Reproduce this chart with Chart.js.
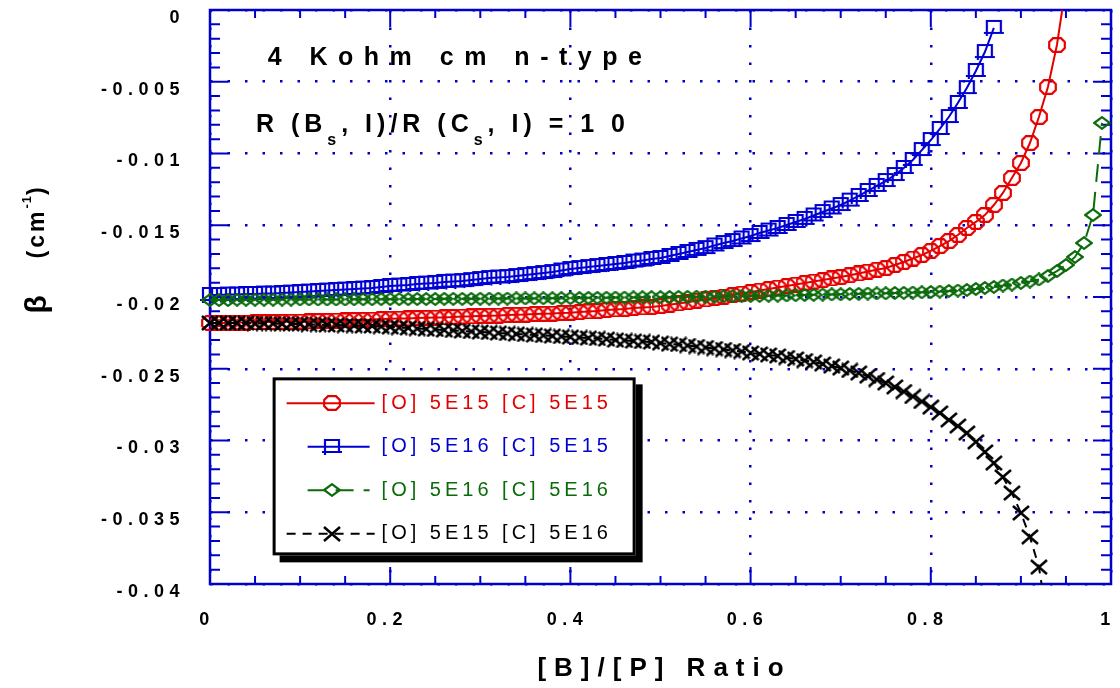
<!DOCTYPE html>
<html>
<head>
<meta charset="utf-8">
<title>Beta vs [B]/[P] ratio</title>
<script src="https://cdn.jsdelivr.net/npm/chart.js@4.4.1/dist/chart.umd.min.js"></script>
<style>
  html, body { margin: 0; padding: 0; background: #fff; }
</style>
</head>
<body>
<canvas id="betaChart" width="1120" height="688"></canvas>
<script>
const FONT = "'Liberation Sans', Arial, Helvetica, sans-serif";
const AXIS_BLUE = "#0000cc";
const RED = "#e50000";
const BLUE = "#0000d2";
const GREEN = "#0b6b0b";
const BLACK = "#000000";

// [B]/[P] ratio sampled every 0.01
const ratio = [
  0.00, 0.01, 0.02, 0.03, 0.04, 0.05, 0.06, 0.07, 0.08, 0.09,
  0.10, 0.11, 0.12, 0.13, 0.14, 0.15, 0.16, 0.17, 0.18, 0.19,
  0.20, 0.21, 0.22, 0.23, 0.24, 0.25, 0.26, 0.27, 0.28, 0.29,
  0.30, 0.31, 0.32, 0.33, 0.34, 0.35, 0.36, 0.37, 0.38, 0.39,
  0.40, 0.41, 0.42, 0.43, 0.44, 0.45, 0.46, 0.47, 0.48, 0.49,
  0.50, 0.51, 0.52, 0.53, 0.54, 0.55, 0.56, 0.57, 0.58, 0.59,
  0.60, 0.61, 0.62, 0.63, 0.64, 0.65, 0.66, 0.67, 0.68, 0.69,
  0.70, 0.71, 0.72, 0.73, 0.74, 0.75, 0.76, 0.77, 0.78, 0.79,
  0.80, 0.81, 0.82, 0.83, 0.84, 0.85, 0.86, 0.87, 0.88, 0.89,
  0.90, 0.91, 0.92, 0.93, 0.94, 0.95, 0.96, 0.97, 0.98, 0.99
];

// beta (cm^-1), [O] 5E15 [C] 5E15
const betaO15C15 = [
  -0.02181, -0.02181, -0.02181, -0.02178, -0.02178, -0.02177, -0.02174, -0.02174, -0.02173, -0.02172,
  -0.02171, -0.02170, -0.02167, -0.02166, -0.02164, -0.02163, -0.02160, -0.02159, -0.02157, -0.02153,
  -0.02152, -0.02150, -0.02149, -0.02146, -0.02145, -0.02143, -0.02142, -0.02139, -0.02136, -0.02135,
  -0.02132, -0.02131, -0.02129, -0.02125, -0.02124, -0.02122, -0.02118, -0.02117, -0.02115, -0.02111,
  -0.02110, -0.02105, -0.02101, -0.02098, -0.02091, -0.02087, -0.02084, -0.02077, -0.02073, -0.02070,
  -0.02063, -0.02054, -0.02045, -0.02036, -0.02026, -0.02017, -0.02007, -0.01997, -0.01986, -0.01976,
  -0.01965, -0.01955, -0.01944, -0.01934, -0.01923, -0.01913, -0.01902, -0.01892, -0.01882, -0.01871,
  -0.01861, -0.01848, -0.01836, -0.01823, -0.01810, -0.01798, -0.01777, -0.01756, -0.01732, -0.01707,
  -0.01679, -0.01645, -0.01610, -0.01568, -0.01519, -0.01477, -0.01429, -0.01359, -0.01275, -0.01171,
  -0.01066, -0.00927, -0.00746, -0.00537, -0.00244, 0.00174
];

// [O] 5E16 [C] 5E15
const betaO16C15 = [
  -0.01986, -0.01986, -0.01983, -0.01983, -0.01979, -0.01979, -0.01976, -0.01976, -0.01972, -0.01969,
  -0.01965, -0.01962, -0.01958, -0.01955, -0.01951, -0.01948, -0.01944, -0.01941, -0.01937, -0.01930,
  -0.01923, -0.01920, -0.01916, -0.01909, -0.01906, -0.01902, -0.01895, -0.01892, -0.01889, -0.01882,
  -0.01875, -0.01868, -0.01864, -0.01861, -0.01854, -0.01847, -0.01840, -0.01833, -0.01826, -0.01815,
  -0.01805, -0.01798, -0.01791, -0.01784, -0.01777, -0.01770, -0.01763, -0.01753, -0.01746, -0.01735,
  -0.01728, -0.01714, -0.01700, -0.01686, -0.01672, -0.01659, -0.01641, -0.01624, -0.01610, -0.01592,
  -0.01575, -0.01554, -0.01537, -0.01519, -0.01498, -0.01477, -0.01456, -0.01432, -0.01408, -0.01383,
  -0.01359, -0.01328, -0.01296, -0.01261, -0.01226, -0.01192, -0.01150, -0.01101, -0.01045, -0.00976,
  -0.00906, -0.00829, -0.00746, -0.00648, -0.00544, -0.00425, -0.00293, -0.00125
];

// [O] 5E16 [C] 5E16
const betaO16C16 = [
  -0.02021, -0.02021, -0.02021, -0.02019, -0.02019, -0.02019, -0.02019, -0.02019, -0.02018, -0.02018,
  -0.02017, -0.02017, -0.02017, -0.02017, -0.02017, -0.02017, -0.02016, -0.02016, -0.02016, -0.02015,
  -0.02015, -0.02015, -0.02015, -0.02014, -0.02014, -0.02014, -0.02013, -0.02013, -0.02013, -0.02013,
  -0.02012, -0.02012, -0.02011, -0.02011, -0.02010, -0.02010, -0.02010, -0.02009, -0.02009, -0.02008,
  -0.02008, -0.02007, -0.02006, -0.02006, -0.02005, -0.02004, -0.02004, -0.02003, -0.02002, -0.02001,
  -0.02001, -0.02000, -0.01999, -0.01999, -0.01998, -0.01997, -0.01997, -0.01995, -0.01994, -0.01994,
  -0.01993, -0.01992, -0.01991, -0.01990, -0.01989, -0.01987, -0.01986, -0.01985, -0.01983, -0.01982,
  -0.01981, -0.01979, -0.01978, -0.01976, -0.01975, -0.01974, -0.01972, -0.01971, -0.01969, -0.01967,
  -0.01965, -0.01962, -0.01958, -0.01955, -0.01951, -0.01944, -0.01937, -0.01930, -0.01920, -0.01913,
  -0.01902, -0.01892, -0.01878, -0.01854, -0.01819, -0.01777, -0.01721, -0.01624, -0.01429, -0.00787
];

// [O] 5E15 [C] 5E16
const betaO15C16 = [
  -0.02181, -0.02181, -0.02181, -0.02181, -0.02181, -0.02185, -0.02185, -0.02185, -0.02188, -0.02188,
  -0.02188, -0.02192, -0.02192, -0.02195, -0.02195, -0.02199, -0.02199, -0.02202, -0.02202, -0.02206,
  -0.02209, -0.02213, -0.02216, -0.02220, -0.02223, -0.02226, -0.02230, -0.02233, -0.02237, -0.02240,
  -0.02244, -0.02247, -0.02251, -0.02254, -0.02258, -0.02261, -0.02265, -0.02268, -0.02272, -0.02275,
  -0.02279, -0.02282, -0.02286, -0.02289, -0.02293, -0.02300, -0.02303, -0.02307, -0.02310, -0.02314,
  -0.02321, -0.02328, -0.02331, -0.02338, -0.02345, -0.02352, -0.02359, -0.02366, -0.02373, -0.02380,
  -0.02390, -0.02397, -0.02404, -0.02411, -0.02422, -0.02432, -0.02443, -0.02453, -0.02467, -0.02481,
  -0.02495, -0.02512, -0.02530, -0.02551, -0.02575, -0.02599, -0.02627, -0.02659, -0.02693, -0.02728,
  -0.02767, -0.02808, -0.02857, -0.02899, -0.02948, -0.03010, -0.03080, -0.03157, -0.03254, -0.03366,
  -0.03505, -0.03672, -0.03882, -0.04286
];

const seriesLabels = [
  "[O] 5E15 [C] 5E15",
  "[O] 5E16 [C] 5E15",
  "[O] 5E16 [C] 5E16",
  "[O] 5E15 [C] 5E16"
];
const xTickLabels = ["0", "0.2", "0.4", "0.6", "0.8", "1"];
const yTickLabels = ["0", "-0.005", "-0.01", "-0.015", "-0.02", "-0.025", "-0.03", "-0.035", "-0.04"];

function toPoints(values) {
  return values.map((v, i) => ({ x: ratio[i], y: v }));
}

// small canvases used as point styles (and reused in the legend)
function markerCanvas(w, h, color, lineWidth, draw) {
  const c = document.createElement("canvas");
  c.width = w;
  c.height = h;
  const g = c.getContext("2d");
  g.strokeStyle = color;
  g.lineWidth = lineWidth;
  g.beginPath();
  draw(g);
  g.stroke();
  return c;
}

const octagonMark = markerCanvas(18, 16, RED, 2.2, (g) => {
  g.moveTo(5, 1.2); g.lineTo(13, 1.2); g.lineTo(16.8, 5); g.lineTo(16.8, 11);
  g.lineTo(13, 14.8); g.lineTo(5, 14.8); g.lineTo(1.2, 11); g.lineTo(1.2, 5);
  g.closePath();
});
const squareMark = markerCanvas(22, 18, BLUE, 2.2, (g) => {
  g.rect(4, 2, 14, 12);
  g.moveTo(1, 14); g.lineTo(21, 14);
  g.moveTo(4, 14); g.lineTo(4, 17);
});
const diamondMark = markerCanvas(18, 14, GREEN, 2.2, (g) => {
  g.moveTo(1.2, 7); g.lineTo(9, 1.2); g.lineTo(16.8, 7); g.lineTo(9, 12.8);
  g.closePath();
});
const crossMark = markerCanvas(18, 16, BLACK, 2.5, (g) => {
  g.moveTo(1, 1); g.lineTo(17, 15);
  g.moveTo(1, 15); g.lineTo(17, 1);
});

// frame and inward tick marks on all four sides
const frameTicks = {
  id: "frameTicks",
  beforeDraw(chart) {
    chart.ctx.letterSpacing = "5.5px";
  },
  beforeDatasetsDraw(chart) {
    const { ctx, chartArea: a, scales: { x, y } } = chart;
    ctx.save();
    ctx.strokeStyle = AXIS_BLUE;
    ctx.lineWidth = 2;
    ctx.beginPath();
    for (let i = 0; i <= 20; i++) {
      const px = x.getPixelForValue(i * 0.05);
      const len = i % 4 === 0 ? 17 : 8;
      ctx.moveTo(px, a.bottom); ctx.lineTo(px, a.bottom - len);
      ctx.moveTo(px, a.top); ctx.lineTo(px, a.top + len);
    }
    for (let i = 0; i <= 40; i++) {
      const py = y.getPixelForValue(-i * 0.001);
      const len = i % 5 === 0 ? 18 : 10;
      ctx.moveTo(a.left, py); ctx.lineTo(a.left + len, py);
      ctx.moveTo(a.right, py); ctx.lineTo(a.right - len, py);
    }
    ctx.stroke();
    ctx.lineWidth = 2.5;
    ctx.strokeRect(a.left, a.top, a.right - a.left, a.bottom - a.top);
    ctx.restore();
  }
};

// draws pieces of text left to right, each with its own font / offset
function drawRun(ctx, x, y, pieces) {
  let cx = x;
  for (const p of pieces) {
    ctx.font = p.font;
    ctx.letterSpacing = p.spacing + "px";
    ctx.fillText(p.text, cx, y + (p.dy || 0));
    cx += ctx.measureText(p.text).width;
  }
  return cx;
}

const textAndLegend = {
  id: "textAndLegend",
  afterDraw(chart) {
    const { ctx, chartArea: a, scales: { x, y } } = chart;
    ctx.save();
    ctx.fillStyle = BLACK;
    ctx.textAlign = "left";
    ctx.textBaseline = "alphabetic";

    const big = `bold 25px ${FONT}`;
    const sub = `bold 16px ${FONT}`;
    drawRun(ctx, x.getPixelForValue(0.064), y.getPixelForValue(-0.00383), [
      { text: "4 Kohm cm n-type", font: big, spacing: 10.5 }
    ]);
    drawRun(ctx, x.getPixelForValue(0.051), y.getPixelForValue(-0.0085), [
      { text: "R (B", font: big, spacing: 5 },
      { text: "s", font: sub, spacing: 5, dy: 13 },
      { text: ", I)/R (C", font: big, spacing: 5 },
      { text: "s", font: sub, spacing: 5, dy: 13 },
      { text: ", I) = 1 0", font: big, spacing: 5 }
    ]);

    // x axis title
    ctx.textAlign = "center";
    ctx.textBaseline = "middle";
    ctx.font = `bold 26px ${FONT}`;
    ctx.letterSpacing = "8px";
    ctx.fillText("[B]/[P] Ratio", (a.left + a.right) / 2 + 4, 669);

    // y axis title, reading bottom to top
    ctx.save();
    ctx.translate(38, y.getPixelForValue(-0.02115));
    ctx.rotate(-Math.PI / 2);
    ctx.textAlign = "left";
    ctx.textBaseline = "middle";
    drawRun(ctx, 0, 0, [{ text: "β", font: `bold 30px ${FONT}`, spacing: 0 }]);
    drawRun(ctx, 55, 0, [
      { text: "(cm", font: `bold 23px ${FONT}`, spacing: 3 },
      { text: "-1", font: `bold 13px ${FONT}`, spacing: 1, dy: -11 },
      { text: ")", font: `bold 23px ${FONT}`, spacing: 3 }
    ]);
    ctx.restore();

    // legend box with drop shadow
    const lx = x.getPixelForValue(0.0695);
    const ly = y.getPixelForValue(-0.0256);
    const w = 363, h = 178;
    ctx.fillStyle = BLACK;
    ctx.fillRect(lx + 7, ly + 7, w, h);
    ctx.fillStyle = "#ffffff";
    ctx.fillRect(lx, ly, w, h);
    ctx.lineWidth = 3;
    ctx.strokeStyle = BLACK;
    ctx.strokeRect(lx + 1.5, ly + 1.5, w - 3, h - 3);

    const sampleSpan = [[14, 102], [35, 97], [35, 97], [14, 102]];
    chart.data.datasets.forEach((ds, i) => {
      const cy = ly + 26 + i * 43.5;
      ctx.strokeStyle = ds.borderColor;
      ctx.lineWidth = 2;
      ctx.setLineDash(ds.borderDash || []);
      ctx.beginPath();
      ctx.moveTo(lx + sampleSpan[i][0], cy);
      ctx.lineTo(lx + sampleSpan[i][1], cy);
      ctx.stroke();
      ctx.setLineDash([]);
      const img = ds.pointStyle;
      ctx.drawImage(img, Math.round(lx + 59 - img.width / 2), Math.round(cy - img.height / 2));
      ctx.fillStyle = ds.borderColor;
      ctx.font = `20px ${FONT}`;
      ctx.letterSpacing = "4px";
      ctx.textAlign = "left";
      ctx.textBaseline = "middle";
      ctx.fillText(ds.label, lx + 109, cy);
    });
    ctx.restore();
  }
};

const tickFont = { family: FONT, size: 18, weight: "bold" };
const datasetClip = { left: 12, right: 12, top: 0, bottom: 0 };

new Chart(document.getElementById("betaChart"), {
  type: "line",
  data: {
    datasets: [
      {
        label: seriesLabels[0],
        data: toPoints(betaO15C15),
        borderColor: RED,
        borderWidth: 2,
        pointStyle: octagonMark,
        pointRadius: 7,
        order: 2,
        clip: datasetClip
      },
      {
        label: seriesLabels[1],
        data: toPoints(betaO16C15),
        borderColor: BLUE,
        borderWidth: 2,
        pointStyle: squareMark,
        pointRadius: 7,
        order: 3,
        clip: datasetClip
      },
      {
        label: seriesLabels[2],
        data: toPoints(betaO16C16),
        borderColor: GREEN,
        borderWidth: 2,
        borderDash: [18, 10],
        pointStyle: diamondMark,
        pointRadius: 7,
        order: 1,
        clip: datasetClip
      },
      {
        label: seriesLabels[3],
        data: toPoints(betaO15C16),
        borderColor: BLACK,
        borderWidth: 2,
        borderDash: [9, 7],
        pointStyle: crossMark,
        pointRadius: 7,
        order: 0,
        clip: datasetClip
      }
    ]
  },
  options: {
    responsive: false,
    animation: false,
    layout: { padding: { top: 10, right: 4, left: 0, bottom: 0 } },
    plugins: {
      legend: { display: false },
      tooltip: { enabled: false }
    },
    scales: {
      x: {
        type: "linear",
        min: 0,
        max: 1,
        afterFit(scale) {
          scale.height = 104;
          scale.paddingLeft = 0;
          scale.paddingRight = 0;
        },
        ticks: {
          stepSize: 0.2,
          autoSkip: false,
          maxRotation: 0,
          padding: 25,
          labelOffset: -3,
          color: BLACK,
          font: tickFont,
          callback: (v) => xTickLabels[Math.round(v / 0.2)]
        },
        grid: { color: AXIS_BLUE, lineWidth: 2.5, drawTicks: false },
        border: { display: false, dash: [2.5, 15] }
      },
      y: {
        type: "linear",
        min: -0.04,
        max: 0,
        afterFit(scale) {
          scale.width = 210;
          scale.paddingTop = 0;
          scale.paddingBottom = 0;
        },
        ticks: {
          stepSize: 0.005,
          autoSkip: false,
          padding: 25,
          labelOffset: 8,
          color: BLACK,
          font: tickFont,
          callback: (v) => yTickLabels[Math.round(-v / 0.005)]
        },
        grid: { color: AXIS_BLUE, lineWidth: 2.5, drawTicks: false },
        border: { display: false, dash: [2.5, 15] }
      }
    }
  },
  plugins: [frameTicks, textAndLegend]
});
</script>
</body>
</html>
